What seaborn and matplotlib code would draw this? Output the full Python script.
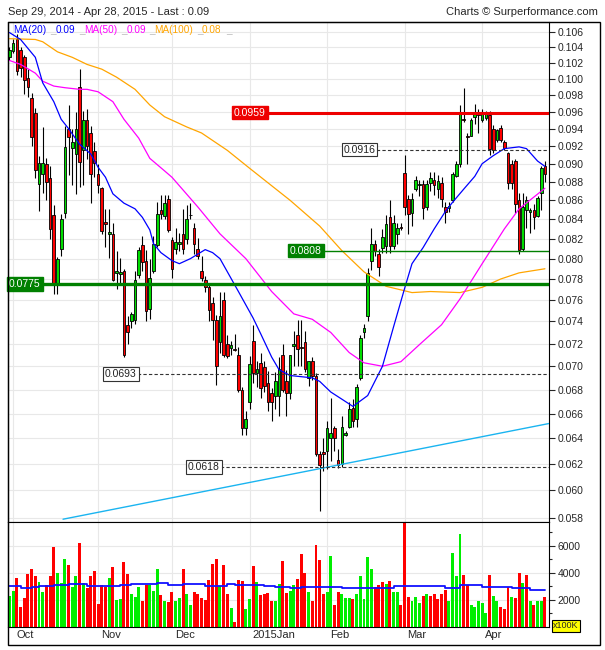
import numpy as np
import matplotlib
matplotlib.use("Agg")
import matplotlib.pyplot as plt
import matplotlib.transforms as mtransforms
from matplotlib.patches import Rectangle
from matplotlib.ticker import FixedLocator, NullLocator, NullFormatter, FuncFormatter
import seaborn as sns

# daily candles (Sep 29, 2014 -> Apr 28, 2015)
opens = [.1027, .1035, .1051, .1037, .1027, .1001, .0977, .0958, .0878, .0889,
         .0900, .0884, .0844, .0776, .0810, .0847, .0940, .0918, .0911, .0990,
         .0915, .0950, .0935, .0914, .0889, .0873, .0837, .0825, .0825, .0786,
         .0785, .0788, .0737, .0740, .0741, .0784, .0814, .0798, .0752, .0788,
         .0814, .0850, .0843, .0861, .0819, .0810, .0815, .0825, .0820, .0844,
         .0831, .0810, .0788, .0779, .0772, .0757, .0741, .0721, .0760, .0720,
         .0716, .0715, .0710, .0680, .0648, .0670, .0722, .0694, .0703, .0699,
         .0686, .0677, .0675, .0675, .0710, .0687, .0677, .0718, .0728, .0717,
         .0721, .0690, .0705, .0692, .0628, .0629, .0630, .0640, .0648, .0623,
         .0620, .0643, .0649, .0665, .0656, .0690, .0730, .0745, .0798, .0815,
         .0805, .0811, .0813, .0842, .0813, .0825, .0832, .0890, .0861, .0847,
         .0872, .0877, .0878, .0853, .0879, .0882, .0872, .0879, .0853, .0852,
         .0860, .0886, .0900, .0951, .0931, .0932, .0954, .0958, .0950, .0953,
         .0956, .0940, .0927, .0941, .0925, .0912, .0900, .0903, .0860, .0810,
         .0850, .0848, .0850, .0843, .0868, .0897]
highs = [.1040, .1051, .1057, .1040, .1030, .1012, .0983, .0965, .0909, .0942,
         .0906, .0897, .0855, .0802, .0846, .0943, .0968, .0940, .0960, .1012,
         .0961, .0963, .0943, .0924, .0900, .0874, .0851, .0851, .0836, .0808,
         .0801, .0790, .0745, .0749, .0788, .0812, .0823, .0809, .0800, .0823,
         .0858, .0866, .0866, .0866, .0822, .0831, .0826, .0851, .0855, .0857,
         .0836, .0821, .0803, .0783, .0775, .0763, .0746, .0768, .0768, .0728,
         .0722, .0729, .0717, .0682, .0662, .0709, .0737, .0705, .0712, .0705,
         .0696, .0681, .0695, .0708, .0720, .0697, .0710, .0731, .0741, .0741,
         .0731, .0705, .0708, .0694, .0630, .0640, .0654, .0673, .0650, .0632,
         .0658, .0646, .0670, .0672, .0685, .0728, .0738, .0791, .0831, .0819,
         .0810, .0830, .0845, .0860, .0845, .0836, .0836, .0910, .0866, .0868,
         .0886, .0882, .0882, .0882, .0891, .0891, .0888, .0885, .0858, .0858,
         .0891, .0903, .0968, .0989, .0935, .0953, .0969, .0963, .0963, .0961,
         .0961, .0944, .0940, .0944, .0927, .0913, .0904, .0905, .0868, .0868,
         .0865, .0852, .0856, .0865, .0897, .0903]
lows = [.1024, .1033, .1005, .1002, .0981, .0978, .0920, .0884, .0849, .0868,
        .0860, .0820, .0766, .0766, .0803, .0841, .0887, .0876, .0867, .0874,
        .0876, .0905, .0857, .0885, .0868, .0825, .0812, .0801, .0778, .0770,
        .0775, .0708, .0720, .0734, .0738, .0781, .0788, .0740, .0742, .0786,
        .0812, .0840, .0840, .0827, .0781, .0805, .0808, .0805, .0815, .0840,
        .0805, .0800, .0778, .0768, .0740, .0723, .0684, .0712, .0708, .0707,
        .0710, .0713, .0678, .0643, .0643, .0664, .0686, .0682, .0673, .0678,
        .0662, .0654, .0664, .0658, .0678, .0658, .0672, .0700, .0700, .0700,
        .0695, .0683, .0688, .0626, .0585, .0615, .0616, .0622, .0630, .0617,
        .0618, .0642, .0648, .0649, .0649, .0688, .0725, .0740, .0789, .0803,
        .0783, .0806, .0806, .0806, .0810, .0815, .0829, .0845, .0825, .0833,
        .0870, .0865, .0840, .0850, .0870, .0866, .0863, .0853, .0836, .0848,
        .0858, .0885, .0896, .0948, .0900, .0932, .0945, .0935, .0948, .0950,
        .0910, .0912, .0925, .0925, .0915, .0872, .0872, .0847, .0805, .0808,
        .0831, .0826, .0830, .0842, .0850, .0880]
closes = [.1037, .1045, .1010, .1013, .0999, .0990, .0930, .0893, .0901, .0901,
          .0880, .0830, .0776, .0800, .0840, .0919, .0930, .0925, .0940, .0902,
          .0950, .0920, .0889, .0901, .0876, .0828, .0835, .0827, .0779, .0788,
          .0787, .0710, .0730, .0747, .0779, .0809, .0797, .0750, .0781, .0815,
          .0846, .0846, .0857, .0829, .0790, .0817, .0817, .0810, .0840, .0845,
          .0815, .0803, .0781, .0772, .0751, .0741, .0700, .0745, .0710, .0709,
          .0719, .0714, .0680, .0648, .0656, .0702, .0694, .0698, .0681, .0683,
          .0670, .0670, .0687, .0698, .0680, .0677, .0710, .0720, .0715, .0716,
          .0698, .0705, .0692, .0628, .0619, .0628, .0648, .0644, .0640, .0619,
          .0649, .0644, .0664, .0654, .0682, .0725, .0734, .0786, .0815, .0808,
          .0792, .0822, .0835, .0813, .0836, .0831, .0831, .0853, .0846, .0861,
          .0882, .0878, .0852, .0878, .0884, .0877, .0881, .0861, .0848, .0854,
          .0889, .0900, .0958, .0950, .0930, .0950, .0958, .0956, .0958, .0957,
          .0917, .0915, .0939, .0927, .0918, .0879, .0879, .0856, .0809, .0853,
          .0860, .0850, .0842, .0862, .0895, .0889]

# volume in units of 100K shares, colour g/r as shown
volumes = [2300, 2670, 3630, 1480, 2150, 3930, 4300, 3780, 3330, 2590,
           3110, 3780, 5930, 4000, 3260, 5040, 4590, 2960, 3780, 6220,
           3260, 2890, 3780, 4150, 1700, 3110, 2960, 3630, 4450, 2000,
           2070, 4820, 3930, 2450, 2220, 2960, 1930, 3110, 3110, 2670,
           4300, 2370, 1930, 1850, 2590, 1930, 2150, 4300, 2450, 1630,
           2590, 2450, 2150, 2000, 3480, 4670, 5040, 3040, 4590, 2450,
           1410, 370, 3480, 3410, 1330, 2070, 4520, 3330, 2370, 2450,
           2520, 1930, 1930, 3190, 4890, 2520, 2670, 3110, 3560, 5400,
           4000, 2600, 1950, 6050, 4950, 2400, 2600, 5250, 1650, 2550,
           2450, 2150, 2150, 2100, 2450, 3800, 2100, 5200, 4300, 2950,
           3100, 3350, 3200, 3400, 2600, 2550, 1650, 7700, 2250, 1900,
           2250, 1750, 2300, 2450, 2300, 2450, 2050, 2450, 2700, 1900,
           5450, 3800, 6900, 3850, 3100, 1650, 1500, 1950, 1750, 1000,
           3850, 2300, 1900, 1500, 1300, 2950, 2250, 2150, 3950, 3250,
           3850, 1950, 1600, 1900, 1900, 2250]
vol_colors = ("ggrrrrrrgg" "rrrgggrggr" "grrrrrrgrg" "grrgggrrgg" "grgrrggrgg"
              "rrrrrrrgrr" "grrrggrgrr" "rrggrrggrr" "rgrrrrggrr" "gggrgggggr"
              "rrgrggrrrg" "ggrgrrrrrg" "gggrrggggg" "rggrrrgrrg" "rgrggr")

volma_day = [0, 3, 6, 8, 12, 16, 21, 30, 33, 40, 43, 47, 53, 56, 59, 61,
             69, 72, 76, 79, 86, 90, 96, 104, 113, 118, 122, 128, 136, 141, 145]
volma_val = [3010, 2890, 2940, 3010, 3090, 3190, 2990, 3090, 3190, 3260, 3090,
             3190, 2990, 3060, 3160, 3090, 3010, 2940, 2870, 2940, 2960, 2870,
             2900, 2990, 3040, 2900, 3090, 2960, 2890, 2740, 2740]

# moving averages sampled along the drawn curves
ma20_day = [0, 3, 7, 9, 12, 14, 16, 19, 22, 24, 26, 28, 31, 34, 36, 38, 39, 41,
            44, 46, 49, 53, 55, 57, 62, 66, 68, 71, 73, 76, 82, 84, 87, 90, 93,
            97, 101, 104, 107, 109, 112, 115, 118, 120, 123, 126, 128, 131, 134,
            138, 140, 143, 145]
ma20_val = [.1059, .1050, .1027, .0995, .0972, .0951, .0940, .0922, .0911, .0896,
            .0885, .0867, .0857, .0851, .0842, .0829, .0815, .0806, .0798, .0795,
            .0800, .0809, .0806, .0800, .0768, .0743, .0729, .0708, .0697, .0692,
            .0690, .0687, .0678, .0672, .0666, .0675, .0700, .0735, .0771, .0795,
            .0811, .0830, .0848, .0858, .0872, .0886, .0900, .0909, .0917, .0919,
            .0917, .0903, .0897]
ma50_day = [0, 3, 7, 9, 12, 15, 19, 21, 24, 28, 31, 35, 38, 42, 44, 51, 57, 64,
            71, 77, 82, 87, 92, 96, 101, 106, 111, 117, 122, 128, 134, 138, 145]
ma50_val = [.1023, .1018, .1007, .0997, .0991, .0989, .0987, .0987, .0984, .0972,
            .0951, .0929, .0906, .0892, .0885, .0853, .0825, .0800, .0768, .0747,
            .0742, .0730, .0712, .0703, .0700, .0704, .0719, .0737, .0761, .0795,
            .0830, .0851, .0873]
ma100_day = [0, 7, 9, 13, 17, 21, 25, 29, 34, 38, 42, 48, 52, 59, 65, 76, 84, 90,
             96, 102, 109, 114, 122, 128, 133, 138, 145]
ma100_val = [.1051, .1050, .1047, .1034, .1027, .1018, .1012, .1002, .0987, .0968,
             .0954, .0942, .0935, .0915, .0895, .0860, .0833, .0808, .0787, .0773,
             .0767, .0768, .0767, .0772, .0780, .0786, .0790]

trend_day = [14.5, 146.1]
trend_val = [0.0579, 0.0652]

# support / resistance levels: value, first day, style
levels = [(0.0959, 60.5, "red"), (0.0916, 90.2, "dash"), (0.0808, 75.6, "green"),
          (0.0775, -0.4, "green_thick"), (0.0693, 25.6, "dash"), (0.0618, 48.0, "dash")]

month_idx = [1, 24, 44, 65, 86, 107, 128]
month_names = ["Oct", "Nov", "Dec", "2015Jan", "Feb", "Mar", "Apr"]

GREEN, RED = "#00dd00", "#ff0000"
VGREEN, VRED = "#00ee00", "#ff0000"
GRID = "#e8e8e8"

sns.set_style("white")
plt.rcParams["font.family"] = ["Liberation Sans", "DejaVu Sans"]
plt.rcParams["axes.edgecolor"] = "black"
plt.rcParams["axes.linewidth"] = 0.8

W, H = 605, 650
fig = plt.figure(figsize=(W / 100, H / 100), dpi=100)


def frac(x0, y0, x1, y1):
    return [x0 / W, 1 - y1 / H, (x1 - x0) / W, (y1 - y0) / H]


ax = fig.add_axes(frac(8, 22, 549, 522))
axv = fig.add_axes(frac(8, 522, 549, 627), sharex=ax)

days = np.arange(len(closes))
o, c = np.array(opens), np.array(closes)
body_col = np.where(c >= o, GREEN, RED)

# candles
ax.vlines(days, lows, highs, color="black", lw=0.8, zorder=2)
ax.bar(days, np.abs(c - o), bottom=np.minimum(o, c), width=0.72, color=body_col,
       edgecolor="black", linewidth=0.6, zorder=3)

for d, v, col in [(ma100_day, ma100_val, "#ffa500"), (ma50_day, ma50_val, "#ff00ff"),
                  (ma20_day, ma20_val, "#0000ff")]:
    sns.lineplot(x=d, y=v, color=col, lw=0.9, ax=ax, zorder=4)

sns.lineplot(x=trend_day, y=trend_val, color="#1ab4f0", lw=1.0, ax=ax, zorder=5)

for val, start, kind in levels:
    txt = f"{val:.4f}"
    if kind == "red":
        ax.hlines(val, start, 146.1, color="#ee0000", lw=2.2, zorder=6)
        box = dict(boxstyle="square,pad=0.18", fc="#ee0000", ec="#ee0000")
        tc = "white"
    elif kind.startswith("green"):
        ax.hlines(val, start, 146.1, color="#008000", lw=2.4 if kind == "green_thick" else 1.0, zorder=6)
        box = dict(boxstyle="square,pad=0.18", fc="#008000", ec="#008000")
        tc = "white"
    else:
        ax.hlines(val, start, 146.1, color="#333333", lw=0.8, linestyles=(0, (3, 2)), zorder=6)
        box = dict(boxstyle="square,pad=0.18", fc="white", ec="#333333", lw=0.8)
        tc = "#222222"
    ax.text(start + 0.3, val, txt, ha="left", va="center", fontsize=7.5, color=tc,
            bbox=box, zorder=7)

ax.set_yscale("log")
ax.set_ylim(0.0577, 0.1073)
ax.set_xlim(-0.4, 146.1)
yt = np.round(np.arange(0.058, 0.1061, 0.002), 3)
ax.yaxis.set_major_locator(FixedLocator(yt))
ax.yaxis.set_minor_locator(NullLocator())
ax.yaxis.set_major_formatter(FuncFormatter(lambda v, p: f"{v:.3f}"))
ax.yaxis.set_minor_formatter(NullFormatter())
ax.yaxis.tick_right()
ax.tick_params(axis="y", direction="out", length=4, width=0.8, labelsize=7.5, pad=2)
ax.set_xticks(month_idx)
ax.tick_params(axis="x", length=0, labelbottom=False)
ax.grid(True, color=GRID, lw=0.8)
ax.set_axisbelow(True)
ax.set_xlabel("")
ax.set_ylabel("")

# volume panel
vcol = [VGREEN if ch == "g" else VRED for ch in vol_colors]
axv.bar(days, volumes, width=0.8, color=vcol, linewidth=0, zorder=2)
sns.lineplot(x=volma_day, y=volma_val, drawstyle="steps-post", color="#1010ff",
             lw=1.3, ax=axv, zorder=3)
axv.set_ylim(0, 7750)
axv.yaxis.tick_right()
axv.set_yticks([2000, 4000, 6000])
axv.set_yticks([1000, 3000, 5000, 7000], minor=True)
axv.tick_params(axis="y", which="major", direction="out", length=4, width=0.8, labelsize=7.5, pad=2)
axv.tick_params(axis="y", which="minor", direction="out", length=2, width=0.8)
axv.tick_params(axis="x", length=0, labelbottom=False)
axv.grid(True, which="major", color=GRID, lw=0.8)
axv.set_axisbelow(True)
axv.set_xlabel("")
axv.set_ylabel("")

offset = mtransforms.ScaledTranslation(0.03, 0, fig.dpi_scale_trans)
trans = mtransforms.blended_transform_factory(axv.transData, axv.transAxes) + offset
for i, name in zip(month_idx, month_names):
    axv.text(i, -0.03, name, transform=trans, ha="left", va="top", fontsize=8)

fig.text(553 / W, 1 - 626 / H, "x100K", fontsize=6.5, ha="left", va="center",
         bbox=dict(boxstyle="square,pad=0.15", fc="#ffff00", ec="black", lw=0.8))

# titles and MA legend
fig.text(8 / W, 1 - 12 / H, "Sep 29, 2014 - Apr 28, 2015 - Last : 0.09", fontsize=8,
         ha="left", va="center")
fig.text(598 / W, 1 - 12 / H, "Charts \u00a9 Surperformance.com", fontsize=8,
         ha="right", va="center")
legend_items = [(13, "MA(20)", "#0000ff"), (50, "_", "#bbbbbb"), (56, "0.09", "#0000ff"),
                (79, "_", "#bbbbbb"), (84, "MA(50)", "#ff00ff"), (121, "_", "#bbbbbb"),
                (127, "0.09", "#ff00ff"), (149, "_", "#bbbbbb"), (154, "MA(100)", "#ffa500"),
                (197, "_", "#bbbbbb"), (202, "0.08", "#ffa500"), (226, "_", "#bbbbbb")]
for x, s, col in legend_items:
    fig.text(x / W, 1 - 30 / H, s, fontsize=7.2, color=col, ha="left", va="center")

fig.add_artist(Rectangle((8 / W, 1 - 645 / H), (600 - 8) / W, (645 - 22) / H, fill=False,
                         lw=1.0, ec="black", transform=fig.transFigure))

fig.savefig("out.png", dpi=100)
